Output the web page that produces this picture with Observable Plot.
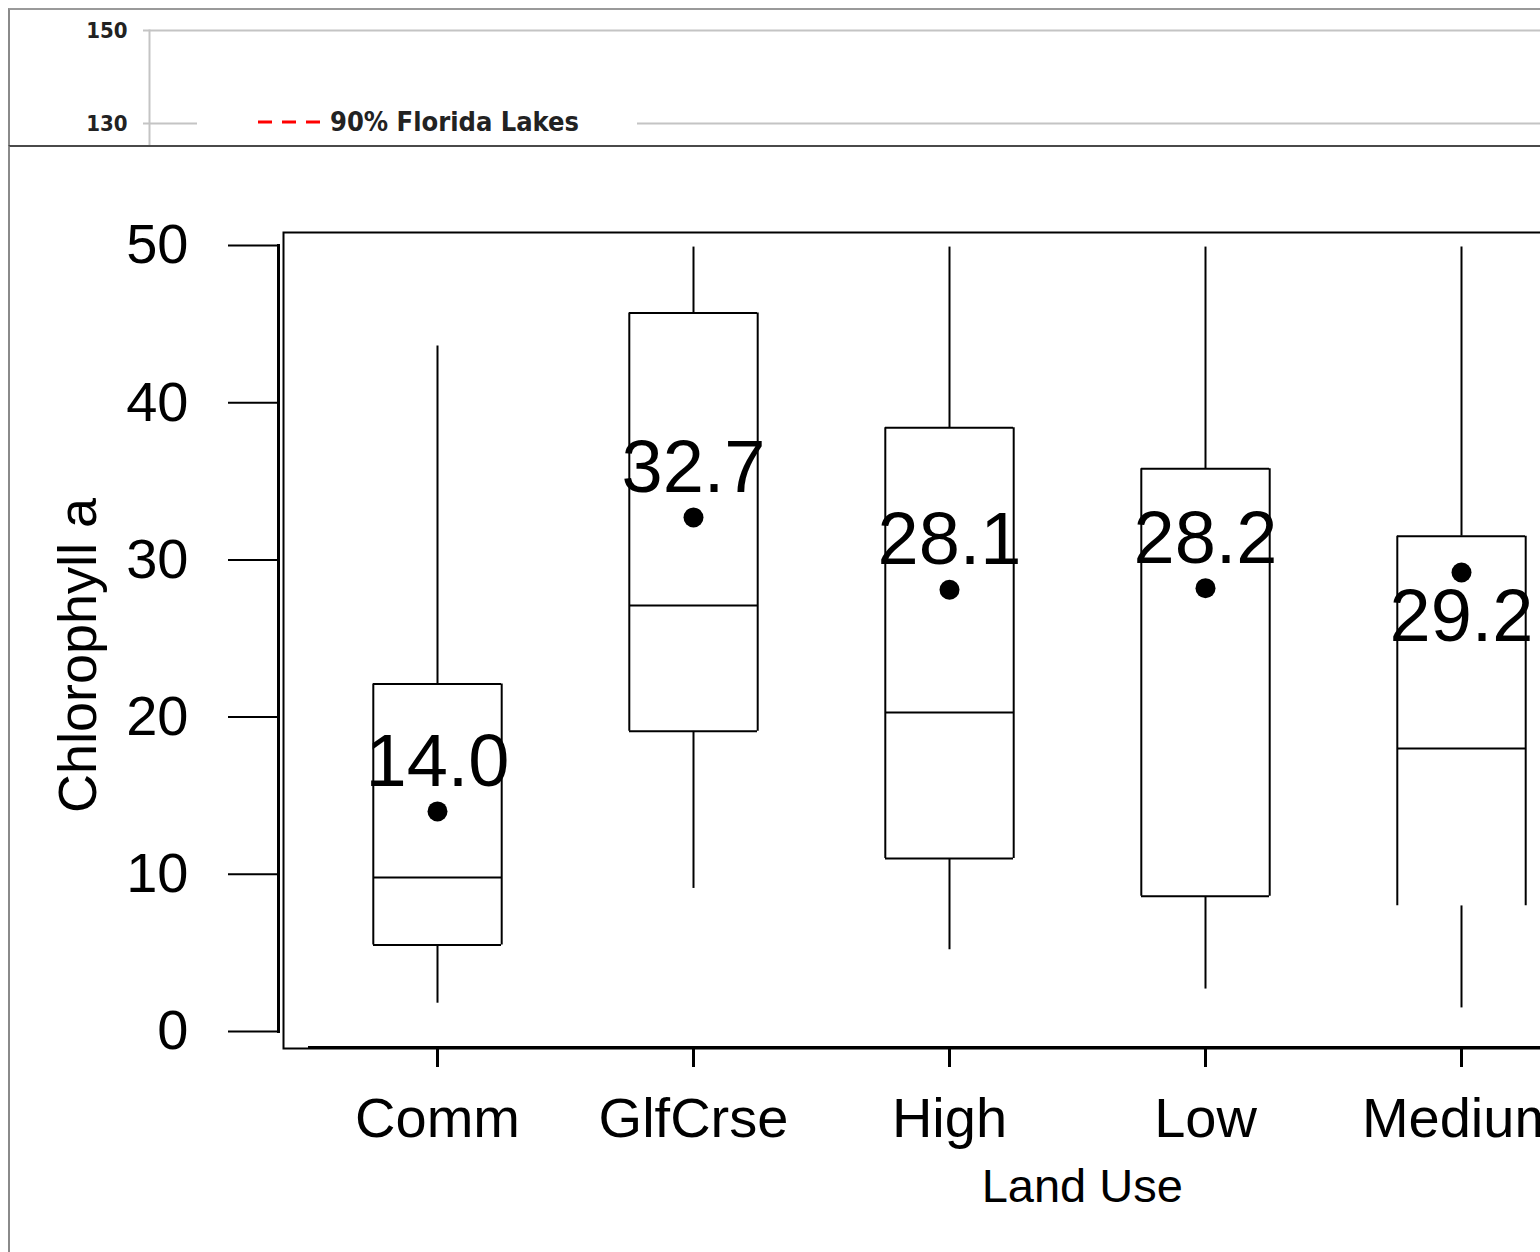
<!DOCTYPE html>
<html>
<head>
<meta charset="utf-8">
<script src="https://cdn.jsdelivr.net/npm/d3@7"></script>
<script src="https://cdn.jsdelivr.net/npm/@observablehq/plot@0.6"></script>
<style>
html, body { margin:0; padding:0; background:#fff; overflow:hidden; width:1540px; height:1252px; }
#top { position:absolute; left:8px; top:8px; width:1540px; height:135px; border-left:2px solid #8a8a8a; border-top:2px solid #9a9a9a; overflow:hidden; background:#fff; }
#main { position:absolute; left:8px; top:145px; width:1540px; height:1105px; border-left:2px solid #8a8a8a; border-top:2px solid #4a4a4a; overflow:hidden; background:#fff; }
#legend { position:absolute; left:197px; top:105px; width:440px; height:36px; background:#fff; }
svg { display:block; max-width:none !important; }
</style>
</head>
<body>
<div id="top"></div>
<div id="main"></div>
<div id="legend"></div>
<script>
// ---- data ----
const landUse     = ["Comm", "GlfCrse", "High", "Low", "Medium"];
const q1          = [5.5, 19.1, 11.0, 8.6, 8.0];
const median      = [9.8, 27.1, 20.3, null, 18.0];
const q3          = [22.1, 45.7, 38.4, 35.8, 31.5];
const whiskerLow  = [1.8, 9.1, 5.2, 2.7, 1.5];
const whiskerHigh = [43.6, 49.9, 49.9, 49.9, 49.9];
const meanValue   = [14.0, 32.7, 28.1, 28.2, 29.2];
const bottomEdge  = [true, true, true, true, false];
const labelAbove  = [true, true, true, true, false];
const yTicks      = [0, 10, 20, 30, 40, 50];
const topTicks    = [130, 150];
const legendLabel = "90% Florida Lakes";

const data = landUse.map((u, i) => ({
  use: u, q1: q1[i], med: median[i], q3: q3[i],
  lo: whiskerLow[i], hi: whiskerHigh[i], mean: meanValue[i],
  closed: bottomEdge[i], above: labelAbove[i]
}));

const halfBand = 64.2;

// ---- top strip (partial chart above) ----
const topPlot = Plot.plot({
  width: 1530, height: 135,
  marginTop: 20, marginBottom: 22, marginLeft: 139, marginRight: 0,
  style: { background: "white", color: "#222", maxWidth: "none" },
  y: { domain: [130, 150] },
  marks: [
    Plot.ruleY(topTicks, { stroke: "#c4c4c4", strokeWidth: 2, insetLeft: -6 }),
    Plot.frame({ anchor: "left", stroke: "#c4c4c4", strokeWidth: 2, insetBottom: -22 }),
    Plot.axisY(topTicks, {
      ticks: topTicks, tickSize: 0, tickPadding: 22, fontSize: 22, fontWeight: "bold",
      fontFamily: "DejaVu Sans Condensed, DejaVu Sans, sans-serif", label: null, fill: "#222"
    })
  ]
});
document.getElementById("top").appendChild(topPlot);

// ---- legend ----
const leg = d3.select("#legend").append("svg").attr("width", 440).attr("height", 36);
leg.append("line").attr("x1", 61).attr("x2", 124).attr("y1", 17).attr("y2", 17)
  .attr("stroke", "#ff0000").attr("stroke-width", 3).attr("stroke-dasharray", "14,10");
leg.append("text").attr("x", 133).attr("y", 26).text(legendLabel)
  .attr("font-family", "DejaVu Sans Condensed, DejaVu Sans, sans-serif")
  .attr("font-stretch", "condensed").attr("font-size", 27).attr("font-weight", 600).attr("fill", "#222");

// ---- main box plot ----
const mainPlot = Plot.plot({
  width: 1660, height: 1105,
  marginTop: 98, marginBottom: 221, marginLeft: 268, marginRight: 14.5,
  style: { fontFamily: "Liberation Sans, Arial, sans-serif", background: "white", color: "black", maxWidth: "none" },
  x: { domain: landUse, range: [233.4, 1645.5], paddingInner: 0.5, paddingOuter: 0.5, align: 0.5 },
  y: { domain: [0, 50] },
  marks: [
    Plot.frame({ insetLeft: 5, insetTop: -13, insetBottom: -17, stroke: "black", strokeWidth: 2 }),
    Plot.frame({ anchor: "left", stroke: "black", strokeWidth: 3 }),
    Plot.ruleY([0], { dy: 16, insetLeft: 30, stroke: "black", strokeWidth: 3 }),
    Plot.axisY({ ticks: yTicks, tickSize: 50, tickPadding: 40, fontSize: 56, strokeWidth: 2, label: null }),
    Plot.axisX({ dy: 16, tickSize: 20, tickPadding: 30, fontSize: 56, strokeWidth: 3, label: null }),
    Plot.ruleX(data, { x: "use", y1: "q3", y2: "hi", stroke: "black", strokeWidth: 2 }),
    Plot.ruleX(data, { x: "use", y1: "lo", y2: "q1", stroke: "black", strokeWidth: 2 }),
    Plot.barY(data, { x: "use", y1: "q1", y2: "q3", fill: "white" }),
    Plot.tickY(data, { x: "use", y: "q3", stroke: "black", strokeWidth: 2 }),
    Plot.tickY(data.filter(d => d.closed), { x: "use", y: "q1", stroke: "black", strokeWidth: 2 }),
    Plot.tickY(data.filter(d => d.med != null), { x: "use", y: "med", stroke: "black", strokeWidth: 2 }),
    Plot.ruleX(data, { x: "use", y1: "q1", y2: "q3", dx: -halfBand, stroke: "black", strokeWidth: 2 }),
    Plot.ruleX(data, { x: "use", y1: "q1", y2: "q3", dx: halfBand, stroke: "black", strokeWidth: 2 }),
    Plot.dot(data, { x: "use", y: "mean", r: 10, fill: "black" }),
    Plot.text(data.filter(d => d.above), { x: "use", y: "mean", text: d => d.mean.toFixed(1), dy: -49, fontSize: 74, fill: "black" }),
    Plot.text(data.filter(d => !d.above), { x: "use", y: "mean", text: d => d.mean.toFixed(1), dy: 45, fontSize: 74, fill: "black" }),
    Plot.text(["Chlorophyll a"], { text: d => d, frameAnchor: "left", textAnchor: "middle", rotate: -90, dx: -200, dy: 17, fontSize: 54, fill: "black" }),
    Plot.text(["Land Use"], { text: d => d, frameAnchor: "bottom", dx: 115, dy: 170, fontSize: 47, fill: "black" })
  ]
});
document.getElementById("main").appendChild(mainPlot);
</script>
</body>
</html>
